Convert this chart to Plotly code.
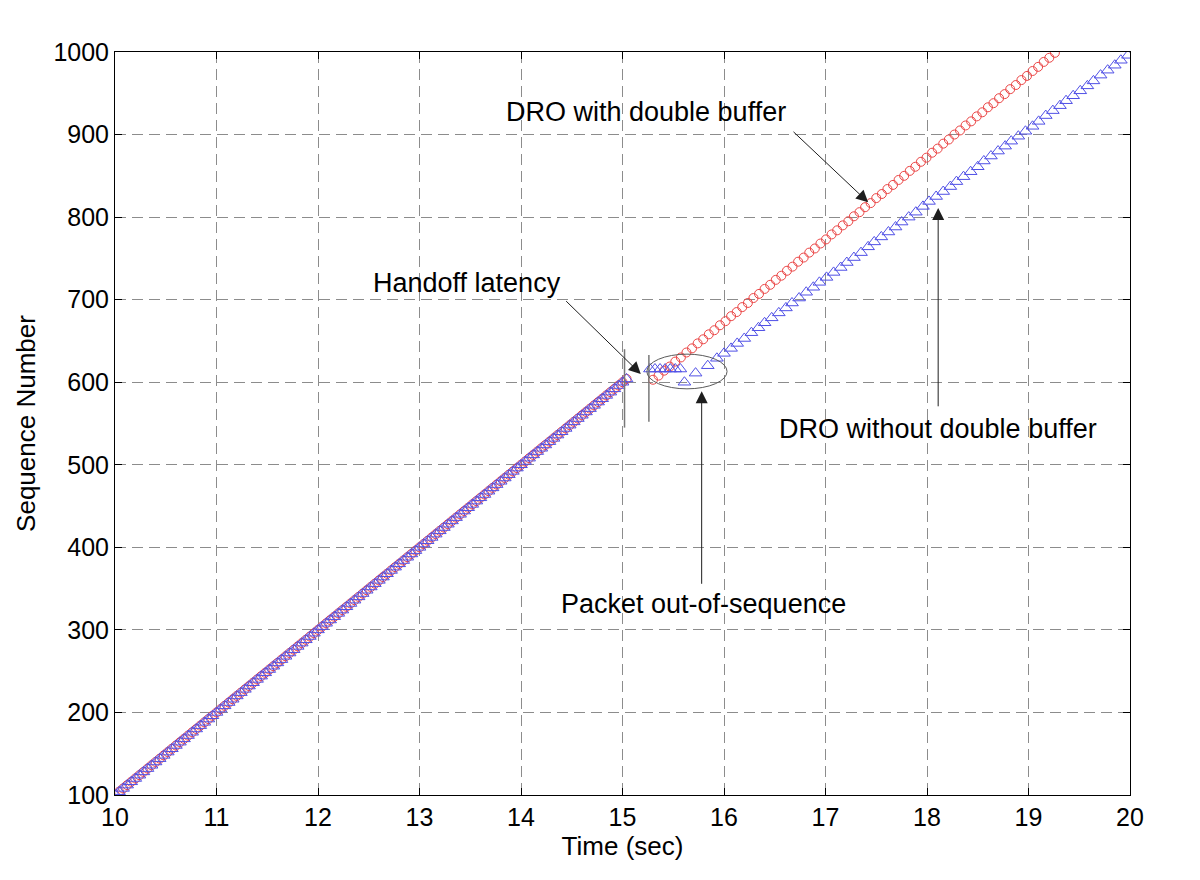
import plotly.graph_objects as go

# ---- data ----
# before handoff (both schemes overlap)
pre_time = [10.00, 10.04, 10.08, 10.12, 10.16, 10.20, 10.24, 10.28, 10.32, 10.36, 10.40, 10.44, 10.48, 10.52, 10.56, 10.60, 10.64, 10.68, 10.72, 10.76, 10.80, 10.84, 10.88, 10.92, 10.96,
            11.00, 11.04, 11.08, 11.12, 11.16, 11.20, 11.24, 11.28, 11.32, 11.36, 11.40, 11.44, 11.48, 11.52, 11.56, 11.60, 11.64, 11.68, 11.72, 11.76, 11.80, 11.84, 11.88, 11.92, 11.96,
            12.00, 12.04, 12.08, 12.12, 12.16, 12.20, 12.24, 12.28, 12.32, 12.36, 12.40, 12.44, 12.48, 12.52, 12.56, 12.60, 12.64, 12.68, 12.72, 12.76, 12.80, 12.84, 12.88, 12.92, 12.96,
            13.00, 13.04, 13.08, 13.12, 13.16, 13.20, 13.24, 13.28, 13.32, 13.36, 13.40, 13.44, 13.48, 13.52, 13.56, 13.60, 13.64, 13.68, 13.72, 13.76, 13.80, 13.84, 13.88, 13.92, 13.96,
            14.00, 14.04, 14.08, 14.12, 14.16, 14.20, 14.24, 14.28, 14.32, 14.36, 14.40, 14.44, 14.48, 14.52, 14.56, 14.60, 14.64, 14.68, 14.72, 14.76, 14.80, 14.84, 14.88, 14.92, 14.96,
            15.00, 15.04]
pre_seq = [100, 104, 108, 112, 116, 120, 124, 128, 132, 136, 140, 144, 148, 152, 156, 160, 164, 168, 172, 176, 180, 184, 188, 192, 196,
           200, 204, 208, 212, 216, 220, 224, 228, 232, 236, 240, 244, 248, 252, 256, 260, 264, 268, 272, 276, 280, 284, 288, 292, 296,
           300, 304, 308, 312, 316, 320, 324, 328, 332, 336, 340, 344, 348, 352, 356, 360, 364, 368, 372, 376, 380, 384, 388, 392, 396,
           400, 404, 408, 412, 416, 420, 424, 428, 432, 436, 440, 444, 448, 452, 456, 460, 464, 468, 472, 476, 480, 484, 488, 492, 496,
           500, 504, 508, 512, 516, 520, 524, 528, 532, 536, 540, 544, 548, 552, 556, 560, 564, 568, 572, 576, 580, 584, 588, 592, 596,
           600, 604]

# after handoff: DRO with double buffer
dbl_time = [15.300, 15.355, 15.410, 15.465, 15.520, 15.575, 15.630, 15.685, 15.740, 15.795, 15.850, 15.905, 15.960,
            16.015, 16.070, 16.125, 16.180, 16.235, 16.290, 16.345, 16.400, 16.455, 16.510, 16.565, 16.620, 16.675, 16.730,
            16.785, 16.840, 16.895, 16.950, 17.005, 17.060, 17.115, 17.170, 17.225, 17.280, 17.335, 17.390, 17.445, 17.500,
            17.555, 17.610, 17.665, 17.720, 17.775, 17.830, 17.885, 17.940, 17.995, 18.050, 18.105, 18.160, 18.215, 18.270,
            18.325, 18.380, 18.435, 18.490, 18.545, 18.600, 18.655, 18.710, 18.765, 18.820, 18.875, 18.930, 18.985, 19.040,
            19.095, 19.150, 19.205, 19.260]
dbl_seq = [603, 608, 614, 619, 625, 630, 636, 641, 647, 652, 658, 663, 669,
           674, 680, 685, 691, 696, 702, 707, 713, 718, 724, 729, 735, 740, 746,
           751, 757, 762, 768, 773, 779, 784, 790, 795, 801, 806, 812, 817, 823,
           828, 834, 839, 845, 850, 856, 861, 867, 872, 878, 883, 889, 894, 900,
           905, 911, 916, 922, 927, 933, 938, 944, 949, 955, 960, 966, 971, 977,
           982, 988, 993, 999]

# after handoff: DRO without double buffer
nod_time = [15.27, 15.32, 15.37, 15.42, 15.47, 15.52, 15.57,
            15.61, 15.72, 15.84,
            15.93, 16.00, 16.07, 16.13, 16.20, 16.27, 16.34, 16.40, 16.47, 16.54, 16.61, 16.67, 16.74,
            16.81, 16.88, 16.94, 17.01, 17.08, 17.15, 17.21, 17.28, 17.35, 17.42, 17.48, 17.55,
            17.62, 17.69, 17.75, 17.82, 17.89, 17.96, 18.02, 18.09, 18.16, 18.23, 18.29, 18.36,
            18.43, 18.50, 18.56, 18.63, 18.70, 18.77, 18.83, 18.90, 18.97, 19.04, 19.10, 19.17,
            19.24, 19.31, 19.37, 19.44, 19.51, 19.58, 19.64, 19.71, 19.78, 19.85, 19.91, 19.98]
nod_seq = [616, 616, 616, 616, 616, 616, 616,
           600, 611, 620,
           629, 635, 641, 647, 653, 660, 666, 672, 678, 684, 690, 696, 702,
           709, 715, 721, 727, 733, 739, 745, 751, 757, 764, 770, 776,
           782, 788, 794, 800, 806, 813, 819, 825, 831, 837, 843, 849,
           855, 861, 868, 874, 880, 886, 892, 898, 904, 910, 916, 923,
           929, 935, 941, 947, 953, 959, 965, 972, 978, 984, 990, 996]

x_ticks = [10, 11, 12, 13, 14, 15, 16, 17, 18, 19, 20]
y_ticks = [100, 200, 300, 400, 500, 600, 700, 800, 900, 1000]

RED = "rgb(235,70,70)"
BLUE = "rgb(80,80,230)"
FONT = "Liberation Sans, Arial, sans-serif"

fig = go.Figure()
fig.add_trace(go.Scatter(x=pre_time + dbl_time, y=pre_seq + dbl_seq, mode="markers",
                         marker=dict(symbol="circle-open", size=9, color=RED, line=dict(width=1, color=RED)),
                         name="DRO with double buffer", showlegend=False))
fig.add_trace(go.Scatter(x=pre_time + nod_time, y=pre_seq + nod_seq, mode="markers",
                         marker=dict(symbol="triangle-up-open", size=11, color=BLUE, line=dict(width=1, color=BLUE)),
                         name="DRO without double buffer", showlegend=False))

# handoff markers (vertical lines) and ellipse
fig.add_shape(type="line", x0=15.02, x1=15.02, y0=545, y1=640, xref="x", yref="y",
              line=dict(color="rgb(120,120,120)", width=1.5))
fig.add_shape(type="line", x0=15.26, x1=15.26, y0=552, y1=633, xref="x", yref="y",
              line=dict(color="rgb(120,120,120)", width=1.5))
fig.add_shape(type="circle", x0=15.24, x1=16.03, y0=592, y1=634, xref="x", yref="y",
              line=dict(color="rgb(90,90,90)", width=1))

arrows = [
    (14.43, 700, 15.18, 610),
    (16.67, 905, 17.42, 818),
    (18.11, 569, 18.11, 811),
    (15.78, 354, 15.78, 589),
]
for (tx, ty, hx, hy) in arrows:
    fig.add_annotation(x=hx, y=hy, ax=tx, ay=ty, xref="x", yref="y", axref="x", ayref="y",
                       text="", showarrow=True, arrowhead=2, arrowsize=2.4, arrowwidth=1,
                       arrowcolor="rgb(30,30,30)")

labels = [
    ("DRO with double buffer", 15.23, 927),
    ("Handoff latency", 13.47, 720),
    ("DRO without double buffer", 18.11, 543),
    ("Packet out-of-sequence", 15.80, 331),
]
for (txt, x, y) in labels:
    fig.add_annotation(x=x, y=y, xref="x", yref="y", text=txt, showarrow=False,
                       font=dict(family=FONT, size=27, color="black"))

axis_common = dict(showline=True, linecolor="black", linewidth=1, mirror="ticks",
                   ticks="inside", ticklen=7, tickcolor="black",
                   showgrid=True, gridcolor="rgb(140,140,140)", gridwidth=1, griddash="11px,6px",
                   zeroline=False, tickfont=dict(family=FONT, size=25, color="black"))

fig.update_xaxes(range=[10, 20], tickvals=x_ticks, ticktext=[str(v) for v in x_ticks],
                 title=dict(text="Time (sec)", font=dict(family=FONT, size=26, color="black"), standoff=2),
                 **axis_common)
fig.update_yaxes(range=[100, 1000], tickvals=y_ticks, ticktext=[str(v) for v in y_ticks],
                 title=dict(text="Sequence Number", font=dict(family=FONT, size=26, color="black"), standoff=10),
                 **axis_common)

fig.update_layout(width=1200, height=880, paper_bgcolor="white", plot_bgcolor="white",
                  margin=dict(l=107, r=78, t=44, b=93), showlegend=False,
                  font=dict(family=FONT, size=25, color="black"))

fig.write_html("out.html")
